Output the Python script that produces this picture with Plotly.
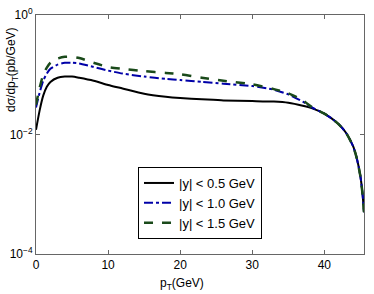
import plotly.graph_objects as go

pt = [0, 0.5, 1, 1.5, 2, 3, 4, 5, 6, 8, 10, 12, 15, 18, 20, 23, 26, 30, 33, 35, 37, 38.5,
      40, 41, 42, 43, 44, 44.5, 45, 45.3, 45.5]

y05 = [0.0120, 0.0251, 0.0447, 0.0631, 0.0759, 0.0891, 0.0933, 0.0933, 0.0891, 0.0794,
       0.0676, 0.0589, 0.0479, 0.0427, 0.0407, 0.0389, 0.0372, 0.0363, 0.0355, 0.0339,
       0.0302, 0.0269, 0.0224, 0.0186, 0.0148, 0.0107, 0.0063, 0.0040, 0.0020, 0.0010, 0.0005]

y10 = [0.0282, 0.0501, 0.0794, 0.1047, 0.1259, 0.1479, 0.1585, 0.1585, 0.1549, 0.1349,
       0.1175, 0.1047, 0.0933, 0.0851, 0.0813, 0.0759, 0.0708, 0.0646, 0.0562, 0.0468,
       0.0355, 0.0275, 0.0224, 0.0186, 0.0148, 0.0107, 0.0063, 0.0040, 0.0020, 0.0010, 0.0005]

y15 = [0.0316, 0.0603, 0.1000, 0.1318, 0.1585, 0.1862, 0.1995, 0.1995, 0.1905, 0.1585,
       0.1349, 0.1259, 0.1148, 0.1072, 0.1023, 0.0891, 0.0794, 0.0692, 0.0575, 0.0490,
       0.0372, 0.0275, 0.0224, 0.0186, 0.0148, 0.0107, 0.0063, 0.0040, 0.0020, 0.0010, 0.0005]

names = ["|y| < 0.5 GeV", "|y| < 1.0 GeV", "|y| < 1.5 GeV"]
xticks = [0, 10, 20, 30, 40]
yticks = [1, 0.01, 0.0001]
yticktext = ["10<sup>0</sup>", "10<sup>−2</sup>", "10<sup>−4</sup>"]

fig = go.Figure()
fig.add_trace(go.Scatter(x=pt, y=y05, mode="lines", name=names[0],
                         line=dict(color="black", width=2, shape="spline", smoothing=0.6)))
fig.add_trace(go.Scatter(x=pt, y=y10, mode="lines", name=names[1],
                         line=dict(color="#0000a8", width=2, dash="dashdot", shape="spline", smoothing=0.6)))
fig.add_trace(go.Scatter(x=pt, y=y15, mode="lines", name=names[2],
                         line=dict(color="#1a4a1a", width=2.5, dash="dash", shape="spline", smoothing=0.6)))

axis_common = dict(showline=True, linecolor="#666", linewidth=1, mirror="ticks",
                   ticks="inside", ticklen=4, tickcolor="#666", showgrid=False,
                   zeroline=False, automargin=False, tickfont=dict(size=12, color="black"))

fig.update_layout(
    width=374, height=294,
    margin=dict(l=36, r=10, t=15, b=40),
    paper_bgcolor="white", plot_bgcolor="white",
    font=dict(family="Liberation Sans, Arial, sans-serif", color="black"),
    xaxis=dict(range=[0, 45.5], tickvals=xticks, **axis_common),
    yaxis=dict(type="log", range=[-4, 0], tickvals=yticks, ticktext=yticktext, **axis_common),
    legend=dict(x=0.311, y=0.364, xanchor="left", yanchor="top", bgcolor="white",
                bordercolor="black", borderwidth=1, font=dict(size=13),
                tracegroupgap=0, itemwidth=30),
    showlegend=True,
    annotations=[
        dict(text="p<sub>T</sub>(GeV)", xref="paper", yref="paper", x=0.445, y=-0.125,
             xanchor="center", yanchor="middle", showarrow=False, font=dict(size=12)),
        dict(text="dσ/dp<sub>T</sub>(pb/GeV)", xref="paper", yref="paper", x=-0.073, y=0.77,
             xanchor="center", yanchor="middle", showarrow=False, textangle=-90,
             font=dict(size=12)),
    ],
)

fig.write_html("out.html", config={"displayModeBar": False},
               post_script="document.body.style.margin='0px';document.body.style.overflow='hidden';")
